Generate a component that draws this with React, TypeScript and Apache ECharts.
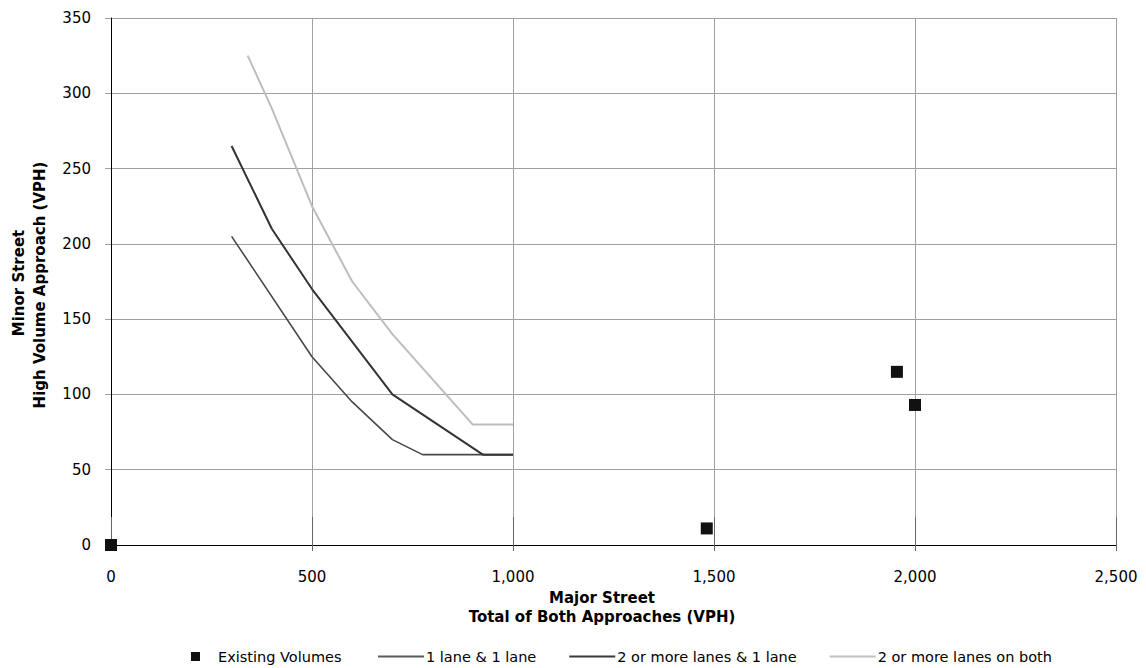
import React, { useEffect, useRef } from "react";
import * as echarts from "echarts";

// Existing volumes (scatter)
const existingMajor = [0, 1482, 1955, 2000];
const existingMinor = [0, 11, 115, 93];

// Warrant curves
const lane11X = [300, 500, 600, 700, 775, 1000];
const lane11Y = [205, 125, 95, 70, 60, 60];

const lane21X = [300, 400, 500, 700, 925, 1000];
const lane21Y = [265, 210, 170, 100, 60, 60];

const lane22X = [340, 400, 500, 600, 700, 900, 1000];
const lane22Y = [325, 290, 225, 175, 140, 80, 80];

const xTicks = { min: 0, max: 2500, interval: 500 };
const yTicks = { min: 0, max: 350, interval: 50 };

const seriesNames = [
  "Existing Volumes",
  "1 lane & 1 lane",
  "2 or more lanes & 1 lane",
  "2 or more lanes on both",
];

const zip = (xs: number[], ys: number[]) => xs.map((x, i) => [x, ys[i]]);

const FONT = "DejaVu Sans";

export default function App() {
  const ref = useRef<HTMLDivElement>(null);
  useEffect(() => {
    if (!ref.current) return;
    const chart = echarts.init(ref.current, undefined, { renderer: "svg" });
    const grid = "#a0a0a0";
    const titleStyle = {
      fontFamily: FONT,
      fontWeight: "bold",
      fontSize: 15,
      fill: "#000",
      textAlign: "center",
      textVerticalAlign: "middle",
    };
    chart.setOption({
      animation: false,
      backgroundColor: "#ffffff",
      textStyle: { fontFamily: FONT },
      grid: { left: 111, right: 30, top: 18, bottom: 123 },
      xAxis: [
        {
          type: "value",
          ...xTicks,
          axisLine: { show: true, lineStyle: { color: "#000", width: 1 } },
          axisTick: { show: true, inside: true, length: 28, lineStyle: { color: "#666" } },
          splitLine: { show: true, lineStyle: { color: grid, width: 1 } },
          axisLabel: {
            margin: 24,
            color: "#000",
            fontSize: 15,
            fontFamily: FONT,
            formatter: (v: number) => v.toLocaleString("en-US"),
          },
        },
        {
          type: "value",
          ...xTicks,
          position: "bottom",
          axisLine: { show: false },
          axisTick: { show: true, inside: false, length: 6, lineStyle: { color: "#666" } },
          splitLine: { show: false },
          axisLabel: { show: false },
        },
      ],
      yAxis: {
        type: "value",
        ...yTicks,
        axisLine: { show: true, lineStyle: { color: "#000", width: 1 } },
        axisTick: { show: true, inside: false, length: 6, lineStyle: { color: grid } },
        splitLine: { show: true, lineStyle: { color: grid, width: 1 } },
        axisLabel: { margin: 20, color: "#000", fontSize: 15, fontFamily: FONT },
      },
      legend: [
        {
          data: [{ name: seriesNames[0], icon: "rect" }],
          left: 186,
          top: 644,
          itemWidth: 9,
          itemHeight: 9,
          textStyle: { fontSize: 14.5, color: "#000", fontFamily: FONT, padding: [0, 0, 0, 13] },
        },
        {
          data: seriesNames.slice(1).map((name) => ({ name, icon: "rect" })),
          left: 373,
          top: 644,
          itemWidth: 46,
          itemHeight: 2,
          itemGap: 33,
          textStyle: { fontSize: 14.5, color: "#000", fontFamily: FONT, padding: [0, 0, 0, -3] },
        },
      ],
      graphic: [
        { type: "text", x: 602, y: 598, style: { ...titleStyle, text: "Major Street" } },
        { type: "text", x: 602, y: 617, style: { ...titleStyle, text: "Total of Both Approaches (VPH)" } },
        { type: "text", x: 19, y: 283, rotation: Math.PI / 2, style: { ...titleStyle, text: "Minor Street" } },
        {
          type: "text",
          x: 40,
          y: 285,
          rotation: Math.PI / 2,
          style: { ...titleStyle, text: "High Volume Approach (VPH)" },
        },
      ],
      series: [
        {
          name: seriesNames[1],
          type: "line",
          data: zip(lane11X, lane11Y),
          symbol: "none",
          lineStyle: { color: "#484848", width: 1.6 },
          itemStyle: { color: "#5a5a5a" },
          z: 3,
        },
        {
          name: seriesNames[2],
          type: "line",
          data: zip(lane21X, lane21Y),
          symbol: "none",
          lineStyle: { color: "#333333", width: 2 },
          itemStyle: { color: "#3a3a3a" },
          z: 3,
        },
        {
          name: seriesNames[3],
          type: "line",
          data: zip(lane22X, lane22Y),
          symbol: "none",
          lineStyle: { color: "#bdbdbd", width: 2 },
          itemStyle: { color: "#c0c0c0" },
          z: 3,
        },
        {
          name: seriesNames[0],
          type: "scatter",
          data: zip(existingMajor, existingMinor),
          symbol: "rect",
          symbolSize: 12,
          clip: false,
          itemStyle: { color: "#111111", opacity: 1 },
          z: 5,
        },
      ],
    });
    return () => chart.dispose();
  }, []);
  return (
    <div
      ref={ref}
      style={{ position: "fixed", left: 0, top: 0, width: 1146, height: 668 }}
    />
  );
}
